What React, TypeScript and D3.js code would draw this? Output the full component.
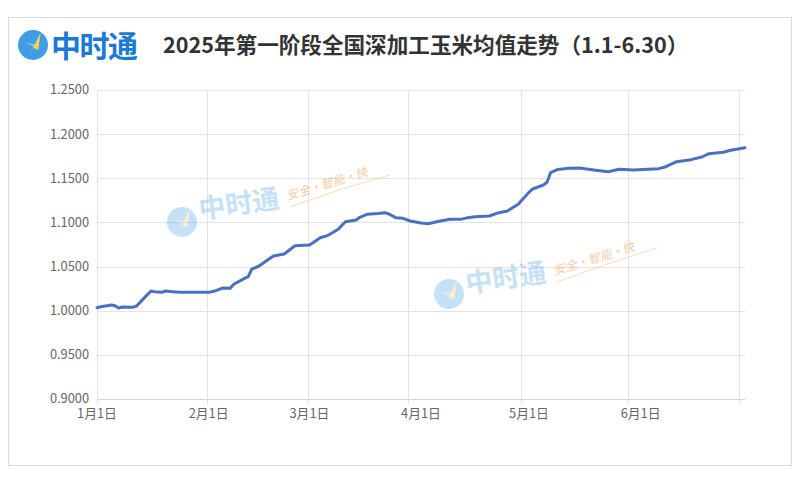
import React, { useEffect, useRef } from "react";
import * as d3 from "d3";

const dates: string[] = [
  "2025-01-01","2025-01-02","2025-01-05","2025-01-06","2025-01-07","2025-01-08","2025-01-11","2025-01-12",
  "2025-01-14","2025-01-16","2025-01-17","2025-01-19","2025-01-20","2025-01-22","2025-01-24","2025-01-31",
  "2025-02-01","2025-02-03","2025-02-05","2025-02-07","2025-02-08","2025-02-11","2025-02-12","2025-02-13",
  "2025-02-15","2025-02-19","2025-02-22","2025-02-25","2025-03-01","2025-03-02","2025-03-04","2025-03-06",
  "2025-03-09","2025-03-11","2025-03-14","2025-03-15","2025-03-17","2025-03-20","2025-03-22","2025-03-23",
  "2025-03-25","2025-03-27","2025-03-29","2025-04-01","2025-04-03","2025-04-06","2025-04-09","2025-04-12",
  "2025-04-14","2025-04-16","2025-04-20","2025-04-22","2025-04-25","2025-04-28","2025-05-01","2025-05-02",
  "2025-05-05","2025-05-06","2025-05-07","2025-05-09","2025-05-12","2025-05-15","2025-05-19","2025-05-23",
  "2025-05-26","2025-05-30","2025-06-03","2025-06-06","2025-06-08","2025-06-11","2025-06-15","2025-06-18",
  "2025-06-20","2025-06-24","2025-06-26","2025-06-30"
];

const values: number[] = [
  1.0034,1.0045,1.0065,1.0057,1.0030,1.0042,1.0040,1.0053,
  1.0140,1.0223,1.0215,1.0208,1.0223,1.0215,1.0208,1.0208,
  1.0208,1.0227,1.0257,1.0254,1.0300,1.0367,1.0385,1.0470,
  1.0506,1.0620,1.0642,1.0736,1.0744,1.0770,1.0827,1.0850,
  1.0922,1.1008,1.1028,1.1058,1.1092,1.1100,1.1110,1.1096,
  1.1054,1.1047,1.1016,1.0994,1.0986,1.1013,1.1035,1.1035,
  1.1054,1.1065,1.1073,1.1103,1.1130,1.1205,1.1341,1.1379,
  1.1424,1.1455,1.1563,1.1600,1.1613,1.1617,1.1594,1.1575,
  1.1602,1.1594,1.1602,1.1609,1.1631,1.1688,1.1711,1.1741,
  1.1779,1.1795,1.1817,1.1847
];

const yTicks: number[] = [0.9, 0.95, 1.0, 1.05, 1.1, 1.15, 1.2, 1.25];
const xLabelDates: string[] = ["2025-01-01","2025-02-01","2025-03-01","2025-04-01","2025-05-01","2025-06-01"];
const xLabels: string[] = ["1月1日","2月1日","3月1日","4月1日","5月1日","6月1日"];
// vertical split lines, in days after Jan 1
const gridDays: number[] = [0, 30.55, 58.7, 86.5, 117.7, 147.4, 178.4];

const title = "2025年第一阶段全国深加工玉米均值走势（1.1-6.30）";
const logoText = "中时通";
const sloganText = "安全·智能·快";

const W = 800, H = 477;
const M = { left: 97, right: 745, top: 90, bottom: 399 };
const FONT = "'Noto Sans CJK SC', 'Microsoft YaHei', sans-serif";

function Mark({ x, y, r, op }: { x: number; y: number; r: number; op: number }) {
  return (
    <g opacity={op}>
      <circle cx={x} cy={y} r={r} fill="#3f9de6" />
      <path d={`M${x - r * 0.55},${y - r * 0.15} L${x + r * 0.35},${y + r * 0.2} L${x + r * 0.05},${y - r * 0.05}Z`} fill="#ffffff" opacity={0.5} />
      <path d={`M${x + r * 0.5},${y - r * 0.8} L${x - r * 0.3},${y + r * 0.75} L${x - r * 0.02},${y + r * 0.15} L${x + r * 0.35},${y + r * 0.35}Z`} fill="#f6d34c" />
    </g>
  );
}

export default function App() {
  const ref = useRef<SVGSVGElement | null>(null);
  const parse = d3.utcParse("%Y-%m-%d");
  const start = parse("2025-01-01")!;
  const end = parse("2025-06-30")!;
  const x = d3.scaleUtc().domain([start, end]).range([M.left, M.right]);
  const y = d3.scaleLinear().domain([0.9, 1.25]).range([M.bottom, M.top]);
  const data = dates.map((d, i) => ({ d: parse(d)!, v: values[i] }));
  const line = d3.line<{ d: Date; v: number }>().x((p) => x(p.d)).y((p) => y(p.v)).curve(d3.curveLinear);

  useEffect(() => {
    document.body.style.margin = "0";
  }, []);

  const gridX = gridDays.map((gd) => x(new Date(start.getTime() + gd * 86400000)));

  return (
    <svg ref={ref} width={W} height={H} style={{ display: "block", background: "#fff" }} fontFamily={FONT}>
      <rect x={0} y={0} width={W} height={H} fill="#fff" />
      <rect x={8.5} y={17.5} width={783} height={448} fill="#fff" stroke="#dcdcdc" />
      {/* logo */}
      <Mark x={33} y={45} r={15} op={1} />
      <text x={51} y={57} fontSize={30} fontWeight={700} fill="#1c7ad6" letterSpacing={-1.5}>{logoText}</text>
      <text x={163} y={53} fontSize={21.6} fontWeight={700} fill="#333">{title}</text>

      {/* grid */}
      {yTicks.map((t) => (
        <line key={"h" + t} x1={M.left} x2={M.right} y1={Math.round(y(t)) + 0.5} y2={Math.round(y(t)) + 0.5} stroke="#e3e3e3" />
      ))}
      {gridX.map((gx, i) => (
        <line key={"v" + i} x1={Math.round(gx) + 0.5} x2={Math.round(gx) + 0.5} y1={M.top} y2={M.bottom + 5} stroke="#e3e3e3" />
      ))}
      <line x1={M.left} x2={M.right} y1={M.bottom + 0.5} y2={M.bottom + 0.5} stroke="#d6d6d6" />

      {/* watermarks */}
      <g>
        <Mark x={182} y={222} r={15} op={0.3} />
        <text x={200} y={219} fontSize={27} fontWeight={700} fill="#7fbdf0" opacity={0.45} transform="rotate(-8 200 219)">{logoText}</text>
        <text x={288} y={200} fontSize={12} fill="#f3a55a" opacity={0.55} fontStyle="italic" transform="rotate(-17 288 200)">{sloganText}</text>
        <path d="M290,207 Q340,188 390,175" fill="none" stroke="#f6b777" opacity={0.5} />
        <Mark x={449} y={294} r={15} op={0.3} />
        <text x={467} y={293} fontSize={27} fontWeight={700} fill="#7fbdf0" opacity={0.45} transform="rotate(-8 467 293)">{logoText}</text>
        <text x={555} y={275} fontSize={12} fill="#f3a55a" opacity={0.55} fontStyle="italic" transform="rotate(-17 555 275)">{sloganText}</text>
        <path d="M557,282 Q607,263 657,248" fill="none" stroke="#f6b777" opacity={0.5} />
      </g>

      {/* line */}
      <path d={line(data) || ""} fill="none" stroke="#4a70c2" strokeWidth={3} strokeLinejoin="round" strokeLinecap="round" />

      {/* y labels */}
      {yTicks.map((t) => (
        <text key={"yl" + t} x={89} y={y(t)} dy="0.35em" textAnchor="end" fontSize={12.8} fill="#666">{t.toFixed(4)}</text>
      ))}
      {/* x labels */}
      {xLabelDates.map((d, i) => (
        <text key={"xl" + i} x={x(parse(d)!)} y={414} dy="0.35em" textAnchor="middle" fontSize={12.8} fill="#666">{xLabels[i]}</text>
      ))}
    </svg>
  );
}
